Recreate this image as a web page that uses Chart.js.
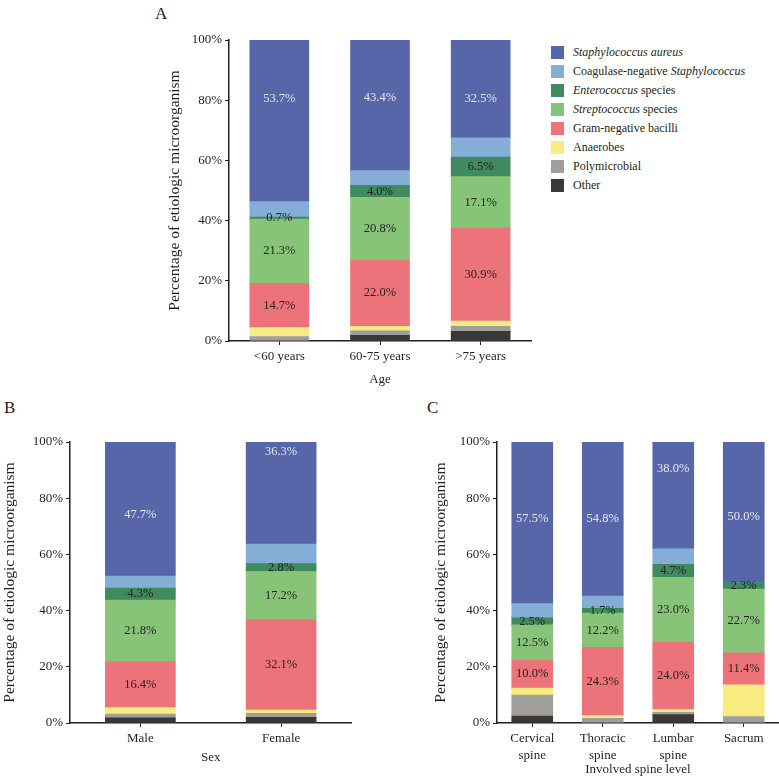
<!DOCTYPE html>
<html>
<head>
<meta charset="utf-8">
<script src="https://cdn.jsdelivr.net/npm/chart.js@4.4.0/dist/chart.umd.min.js"></script>
<style>
body { margin: 0; background: #fff; font-family: "Liberation Serif", serif; color: #231f20; }
#wrap { position: relative; width: 779px; height: 779px; overflow: hidden; }
canvas { position: absolute; }
.tag { position: absolute; font-size: 17px; line-height: 20px; }
#legend { position: absolute; left: 551px; top: 43px; font-size: 12px; }
.row { height: 19px; display: flex; align-items: center; white-space: nowrap; }
.sw { width: 13px; height: 13px; margin-right: 9px; flex: none; }
</style>
</head>
<body>
<div id="wrap">
  <div class="tag" style="left:155px;top:4px">A</div>
  <div class="tag" style="left:4px;top:398px">B</div>
  <div class="tag" style="left:427px;top:398px">C</div>
  <canvas id="chartA" width="390" height="380" style="left:150px;top:20px"></canvas>
  <canvas id="chartB" width="360" height="354" style="left:0px;top:425px"></canvas>
  <canvas id="chartC" width="359" height="354" style="left:420px;top:425px"></canvas>
  <div id="legend"></div>
</div>
<script>
// organisms, top of the stack first (same order as the legend)
var organisms = ['Staphylococcus aureus', 'Coagulase-negative Staphylococcus', 'Enterococcus species',
    'Streptococcus species', 'Gram-negative bacilli', 'Anaerobes', 'Polymicrobial', 'Other'];
var colors = ['#5766a8', '#84aed6', '#3f8a5e', '#88c477', '#ec737a', '#f8ec80', '#a09e9a', '#3a3735'];

// A - age
var ageLabels = ['<60 years', '60-75 years', '>75 years'];
var ageSA = [53.7, 43.4, 32.5];
var ageCoNS = [5.1, 4.9, 6.4];
var ageEnt = [0.7, 4.0, 6.5];
var ageStrep = [21.3, 20.8, 17.1];
var ageGNB = [14.7, 22.0, 30.9];
var ageAnaer = [3.0, 1.5, 1.7];
var agePoly = [1.5, 1.5, 1.7];
var ageOther = [0, 1.9, 3.2];

// B - sex
var sexLabels = ['Male', 'Female'];
var sexSA = [47.7, 36.3];
var sexCoNS = [4.3, 7.0];
var sexEnt = [4.3, 2.8];
var sexStrep = [21.8, 17.2];
var sexGNB = [16.4, 32.1];
var sexAnaer = [2.3, 1.2];
var sexPoly = [1.4, 1.4];
var sexOther = [1.8, 2.0];

// C - involved spine level
var spineLabels = [['Cervical', 'spine'], ['Thoracic', 'spine'], ['Lumbar', 'spine'], 'Sacrum'];
var spineSA = [57.5, 54.8, 38.0, 50.0];
var spineCoNS = [5.1, 4.4, 5.5, 0];
var spineEnt = [2.5, 1.7, 4.7, 2.3];
var spineStrep = [12.5, 12.2, 23.0, 22.7];
var spineGNB = [10.0, 24.3, 24.0, 11.4];
var spineAnaer = [2.5, 0.9, 1.0, 11.3];
var spinePoly = [7.4, 1.7, 0.8, 2.3];
var spineOther = [2.5, 0, 3.0, 0];

var ink = '#231f20';
var yTitle = 'Percentage of etiologic microorganism';
Chart.defaults.font.family = '"Liberation Serif", serif';
Chart.defaults.color = ink;

// which series get a value printed on the bar
var showValue = [true, false, true, true, true, false, false, false];

var segLabels = {
    id: 'segLabels',
    afterDatasetsDraw: function (chart, args, opts) {
        var ctx = chart.ctx;
        var yS = chart.scales.y;
        ctx.save();
        ctx.font = '12.5px "Liberation Serif"';
        ctx.textAlign = 'center';
        ctx.textBaseline = 'middle';
        chart.data.datasets.forEach(function (ds, di) {
            if (!showValue[ds.orgIndex]) return;
            chart.getDatasetMeta(di).data.forEach(function (bar, i) {
                var v = ds.data[i];
                if (!v) return;
                var y = (bar.y + bar.base) / 2;
                if (ds.orgIndex === 0 && opts.topLevels) y = yS.getPixelForValue(opts.topLevels[i]);
                ctx.fillStyle = ds.orgIndex === 0 ? '#e4e6f2' : ink;
                ctx.fillText(v.toFixed(1) + '%', bar.x, y);
            });
        });
        ctx.restore();
    }
};

function buildSets(series) {
    var sets = [];
    // chart.js stacks the first dataset at the bottom, so go from "Other" up
    for (var k = series.length - 1; k >= 0; k--) {
        sets.push({
            label: organisms[k],
            orgIndex: k,
            data: series[k],
            backgroundColor: colors[k],
            borderWidth: 0
        });
    }
    return sets;
}

function makeChart(id, labels, series, cfg) {
    return new Chart(document.getElementById(id), {
        type: 'bar',
        data: { labels: labels, datasets: buildSets(series) },
        options: {
            responsive: false,
            animation: false,
            datasets: { bar: { barThickness: cfg.barWidth } },
            layout: { padding: { top: cfg.top, right: cfg.right, left: 0, bottom: 0 } },
            plugins: {
                legend: { display: false },
                tooltip: { enabled: false },
                segLabels: { topLevels: cfg.topLevels }
            },
            scales: {
                x: {
                    stacked: true,
                    offset: true,
                    grid: { offset: false, drawOnChartArea: false, tickLength: 4, color: ink },
                    border: { color: ink, width: 1.5 },
                    ticks: { color: ink, padding: 3, maxRotation: 0, autoSkip: false, font: { size: 13, lineHeight: 1.3 } },
                    title: { display: true, text: cfg.xTitle, color: ink, font: { size: 13, lineHeight: 1.2 }, padding: { top: 0, bottom: cfg.xTitlePad } },
                    afterFit: function (s) { s.height = cfg.xHeight; }
                },
                y: {
                    stacked: true,
                    min: 0,
                    max: 100,
                    grid: { drawOnChartArea: false, tickLength: 4, color: ink },
                    border: { color: ink, width: 1.5 },
                    ticks: {
                        stepSize: 20, color: ink, padding: 3, font: { size: 13 },
                        callback: function (v) { return v + '%'; }
                    },
                    title: { display: true, text: yTitle, color: ink, font: { size: 15.5, lineHeight: 1.2 }, padding: { top: cfg.yTitlePad, bottom: 0 } },
                    afterFit: function (s) { s.width = cfg.yWidth; }
                }
            }
        },
        plugins: [segLabels]
    });
}

makeChart('chartA', ageLabels,
    [ageSA, ageCoNS, ageEnt, ageStrep, ageGNB, ageAnaer, agePoly, ageOther],
    { barWidth: 59, top: 20, right: 9, xHeight: 59, yWidth: 79, xTitle: 'Age', xTitlePad: 13, yTitlePad: 16,
      topLevels: [80.4, 80.7, 80.4] });

makeChart('chartB', sexLabels,
    [sexSA, sexCoNS, sexEnt, sexStrep, sexGNB, sexAnaer, sexPoly, sexOther],
    { barWidth: 70, top: 17, right: 8.5, xHeight: 56, yWidth: 70, xTitle: 'Sex', xTitlePad: 14, yTitlePad: 1,
      topLevels: [74.1, 96.5] });

makeChart('chartC', spineLabels,
    [spineSA, spineCoNS, spineEnt, spineStrep, spineGNB, spineAnaer, spinePoly, spineOther],
    { barWidth: 41, top: 17, right: 0, xHeight: 56, yWidth: 77, xTitle: 'Involved spine level', xTitlePad: 2, yTitlePad: 12,
      topLevels: [72.7, 72.7, 90.5, 73.4] });

// legend with the genus names in italics
var html = '';
for (var k = 0; k < organisms.length; k++) {
    var txt = organisms[k].replace(/(Staphylococcus aureus|Staphylococcus|Enterococcus|Streptococcus)/, '<i>$1</i>');
    html += '<div class="row"><span class="sw" style="background:' + colors[k] + '"></span><span>' + txt + '</span></div>';
}
document.getElementById('legend').innerHTML = html;
</script>
</body>
</html>
